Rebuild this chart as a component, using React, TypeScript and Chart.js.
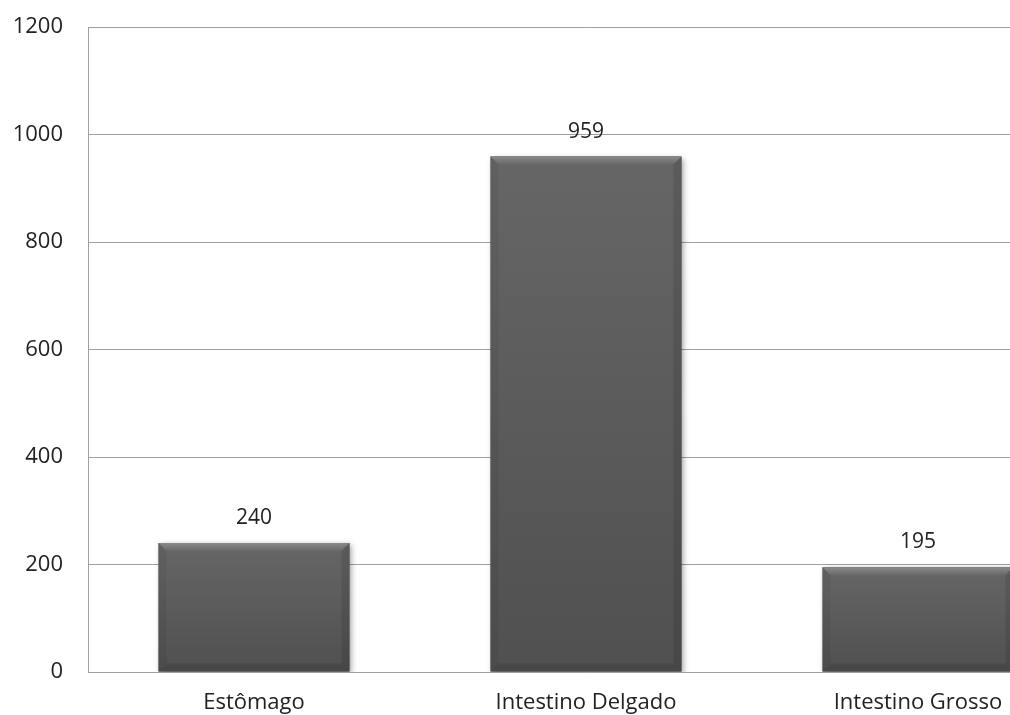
import React, { useEffect, useRef } from "react";
import { Chart, registerables } from "chart.js";
Chart.register(...registerables);

const categories = ["Estômago", "Intestino Delgado", "Intestino Grosso"];
const values = [240, 959, 195];
const yMin = 0;
const yMax = 1200;
const yStep = 200;

const FONT = "'Open Sans', 'DejaVu Sans', sans-serif";
const CANVAS_W = 1100;
const CANVAS_H = 745;

export default function App() {
  const ref = useRef<HTMLCanvasElement>(null);

  useEffect(() => {
    if (!ref.current) return;
    const barPlugin = {
      id: "barStyle",
      beforeDatasetsDraw(chart: any) {
        const ctx = chart.ctx;
        ctx.save();
        ctx.shadowColor = "rgba(0,0,0,0.4)";
        ctx.shadowBlur = 6;
        ctx.shadowOffsetX = 2;
        ctx.shadowOffsetY = 2;
      },
      afterDatasetsDraw(chart: any) {
        const ctx = chart.ctx;
        ctx.restore();
        const meta = chart.getDatasetMeta(0);
        meta.data.forEach((bar: any, i: number) => {
          const { x, y, base, width } = bar.getProps(["x", "y", "base", "width"], true);
          const l = x - width / 2;
          const r = x + width / 2;
          const t = y;
          const b = base;
          const bv = 8;
          ctx.save();
          const g = ctx.createLinearGradient(0, t, 0, b);
          g.addColorStop(0, "#666666");
          g.addColorStop(1, "#505050");
          ctx.fillStyle = g;
          ctx.fillRect(l, t, width, b - t);
          // top bevel
          const gt = ctx.createLinearGradient(0, t, 0, t + bv);
          gt.addColorStop(0, "#8a8a8a");
          gt.addColorStop(1, "#686868");
          ctx.fillStyle = gt;
          ctx.beginPath();
          ctx.moveTo(l, t);
          ctx.lineTo(r, t);
          ctx.lineTo(r - bv, t + bv);
          ctx.lineTo(l + bv, t + bv);
          ctx.closePath();
          ctx.fill();
          // left bevel
          ctx.fillStyle = "rgba(0,0,0,0.05)";
          ctx.beginPath();
          ctx.moveTo(l, t);
          ctx.lineTo(l + bv, t + bv);
          ctx.lineTo(l + bv, b - bv);
          ctx.lineTo(l, b);
          ctx.closePath();
          ctx.fill();
          // right bevel
          ctx.fillStyle = "rgba(0,0,0,0.10)";
          ctx.beginPath();
          ctx.moveTo(r, t);
          ctx.lineTo(r - bv, t + bv);
          ctx.lineTo(r - bv, b - bv);
          ctx.lineTo(r, b);
          ctx.closePath();
          ctx.fill();
          // bottom bevel
          ctx.fillStyle = "rgba(0,0,0,0.10)";
          ctx.beginPath();
          ctx.moveTo(l, b);
          ctx.lineTo(l + bv, b - bv);
          ctx.lineTo(r - bv, b - bv);
          ctx.lineTo(r, b);
          ctx.closePath();
          ctx.fill();
          // value label
          ctx.fillStyle = "#222";
          ctx.font = "21px " + FONT;
          ctx.textAlign = "center";
          ctx.textBaseline = "middle";
          ctx.fillText(String(values[i]), x, t - 25);
          ctx.restore();
        });
      },
    };

    const chart = new Chart(ref.current, {
      type: "bar",
      data: {
        labels: categories,
        datasets: [
          {
            data: values,
            backgroundColor: "#5a5a5a",
            borderWidth: 0,
            categoryPercentage: 1,
            barPercentage: 0.575,
          },
        ],
      },
      options: {
        responsive: false,
        animation: false,
        devicePixelRatio: 1,
        layout: { padding: { left: 0, top: 27, right: 16, bottom: 0 } },
        plugins: { legend: { display: false }, tooltip: { enabled: false } },
        scales: {
          x: {
            grid: { display: false, drawTicks: false },
            border: { display: true, color: "#a0a0a0", width: 1 },
            ticks: { color: "#222", font: { family: FONT, size: 22 }, padding: 18 },
            afterFit(scale: any) {
              scale.height = CANVAS_H - 672;
              scale.paddingLeft = 0;
              scale.paddingRight = 0;
            },
          },
          y: {
            min: yMin,
            max: yMax,
            grid: { color: "#a0a0a0", lineWidth: 1, drawTicks: false },
            border: { display: true, color: "#a0a0a0", width: 1 },
            ticks: {
              stepSize: yStep,
              color: "#222",
              font: { family: FONT, size: 22 },
              padding: 25,
              callback: (v: any) => String(v),
            },
            afterFit(scale: any) {
              scale.width = 88;
              scale.paddingTop = 0;
              scale.paddingBottom = 0;
            },
          },
        },
      },
      plugins: [barPlugin],
    });
    return () => chart.destroy();
  }, []);

  return (
    <div
      style={{
        position: "fixed",
        left: 0,
        top: 0,
        width: 1010,
        height: 715,
        overflow: "hidden",
        background: "#fff",
      }}
    >
      <canvas ref={ref} width={CANVAS_W} height={CANVAS_H} style={{ display: "block" }} />
    </div>
  );
}
